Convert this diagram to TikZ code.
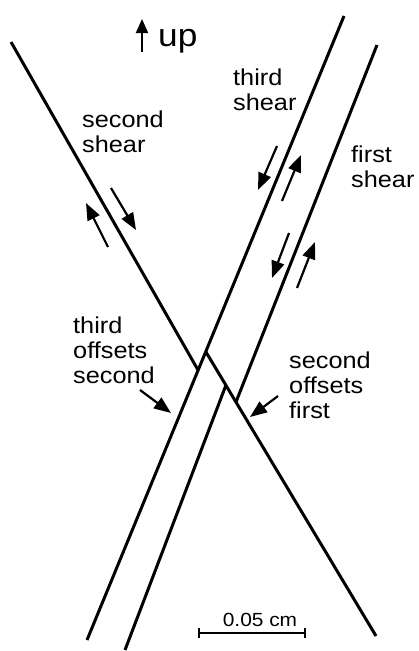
\documentclass[tikz,border=0pt]{standalone}
\usepackage{fontspec}
\setmainfont{Liberation Sans}[FakeStretch=1.1]
\usepackage{tikz}
\usetikzlibrary{arrows.meta}
\newcommand{\LabelFont}{\fontsize{23pt}{25pt}\selectfont}

\begin{document}
\begin{tikzpicture}[x=1pt,y=-1pt,
    fault/.style={line width=3pt},
    sense/.style={line width=2.2pt,-{Triangle[length=17pt,width=13pt]}},
    pointer/.style={line width=2.2pt,-{Triangle[length=17pt,width=13pt]}},
    lbl/.style={anchor=base west,align=left,inner sep=0pt,font=\LabelFont}]
    \useasboundingbox (0,0) rectangle (418,651);
    % faults
    \coordinate (t1) at (344,16);  \coordinate (t2) at (87,640);
    \coordinate (f1) at (377,45);  \coordinate (f2) at (236,402);
    \coordinate (f3) at (226,385); \coordinate (f4) at (125,650);
    \coordinate (s1) at (11,42);   \coordinate (s2) at (198,370);
    \coordinate (s3) at (206,352); \coordinate (s4) at (376,636);
    \draw[fault] (t1)--(t2);
    \draw[fault] (f1)--(f2);
    \draw[fault] (f3)--(f4);
    \draw[fault] (s1)--(s2);
    \draw[fault] (s3)--(s4);
    % shear sense
    \draw[sense] (108,247)--(86,203);
    \draw[sense] (111,188)--(136,230);
    \draw[sense] (277,146)--(258,190);
    \draw[sense] (282,201)--(301,155);
    \draw[sense] (289,233)--(272,278);
    \draw[sense] (297,288)--(315,242);
    % labels (base = last line)
    \node[lbl,font=\fontsize{32pt}{32pt}\selectfont] (up) at (158,46) {up};
    \draw[line width=2pt,-{Triangle[length=14pt,width=12pt]}] (142,52)--(142,19);
    \node[lbl] (thirdshear) at (233,110) {third\\shear};
    \node[lbl] (secondshear) at (82,152) {second\\shear};
    \node[lbl] (firstshear) at (351,187) {first\\shear};
    \node[lbl] (thirdoff) at (73,383) {third\\offsets\\second};
    \node[lbl] (secondoff) at (289,418) {second\\offsets\\first};
    \coordinate (p1) at (171,413);
    \coordinate (p2) at (250,417);
    \draw[pointer] (140,390)--(p1);
    \draw[pointer] (278,396)--(p2);
    % scale bar
    \draw[line width=2pt] (199,628)--(199,638) (199,633)--(305,633) (305,628)--(305,638);
    \node[anchor=base,inner sep=0pt,font=\fontsize{19pt}{20pt}\selectfont] (scale) at (260,626) {0.05 cm};
\end{tikzpicture}
\end{document}
